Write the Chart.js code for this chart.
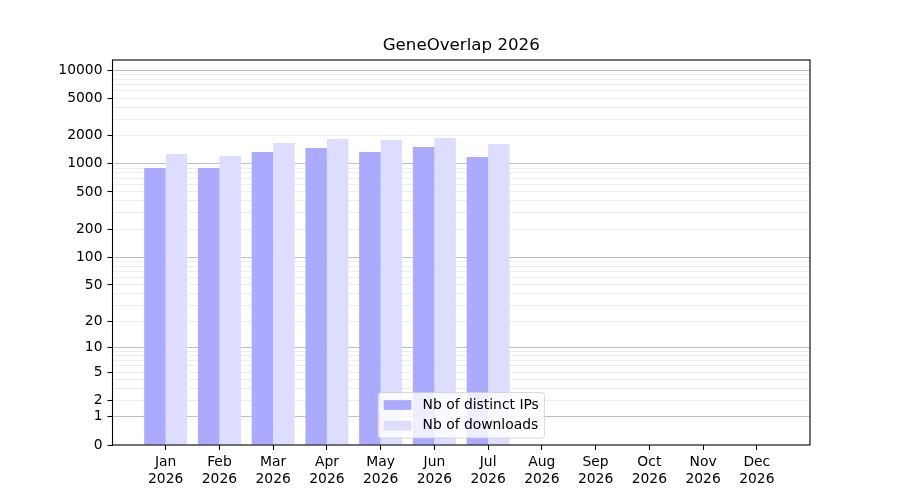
<!DOCTYPE html>
<html>
<head>
<meta charset="utf-8">
<script src="https://cdn.jsdelivr.net/npm/chart.js@4/dist/chart.umd.min.js"></script>
<style>
  html, body { margin: 0; padding: 0; background: #fff; }
  #wrap { width: 900px; height: 500px; }
</style>
</head>
<body>
<div id="wrap"><canvas id="c" width="900" height="500"></canvas></div>
<script>
// ---- data ----
const chartTitle = 'GeneOverlap 2026';
const months = ['Jan', 'Feb', 'Mar', 'Apr', 'May', 'Jun', 'Jul', 'Aug', 'Sep', 'Oct', 'Nov', 'Dec'];
const year = '2026';
const seriesNames = ['Nb of distinct IPs', 'Nb of downloads'];
const distinctIPs = [900, 900, 1335, 1470, 1335, 1510, 1180, 0, 0, 0, 0, 0];
const downloads = [1270, 1210, 1665, 1835, 1790, 1880, 1625, 0, 0, 0, 0, 0];
const yTickLabels = [0, 1, 2, 5, 10, 20, 50, 100, 200, 500, 1000, 2000, 5000, 10000];
const yMajorGrid = [1, 10, 100, 1000, 10000];
const yAxisMax = 12790;

// ---- log10(1+x) scale ----
class Log1pScale extends Chart.LinearScale {
  determineDataLimits() {
    this.min = 0;
    this.max = this.options.max;
  }
  buildTicks() {
    const vals = new Set(yTickLabels);
    for (let d = 1; d <= 1000; d *= 10) {
      for (let k = 2; k <= 9; k++) vals.add(k * d);
    }
    return Array.from(vals).filter(v => v <= this.max).sort((a, b) => a - b).map(v => ({ value: v }));
  }
  getPixelForValue(value) {
    if (value === null || value === undefined || isNaN(value)) return NaN;
    const t = Math.log10(1 + Math.max(0, value)) / Math.log10(1 + this.max);
    return this.getPixelForDecimal(t);
  }
  getValueForPixel(pixel) {
    const d = this.getDecimalForPixel(pixel);
    return Math.pow(10, d * Math.log10(1 + this.max)) - 1;
  }
}
Log1pScale.id = 'log1p';
Log1pScale.defaults = Chart.LinearScale.defaults;
Chart.register(Log1pScale);

const FONT = 'DejaVu Sans';
const TICK_PX = 13.89;

const framePlugin = {
  id: 'frameAndLegend',
  afterDraw(chart) {
    const ctx = chart.ctx;
    const a = chart.chartArea;
    ctx.save();
    ctx.strokeStyle = '#000';
    ctx.lineWidth = 1.1;
    ctx.strokeRect(a.left, a.top, a.right - a.left, a.bottom - a.top);

    // legend (lower center, matplotlib style)
    const fs = TICK_PX;
    ctx.font = fs + 'px "' + FONT + '"';
    const ds = chart.data.datasets;
    let tw = 0;
    ds.forEach(d => { tw = Math.max(tw, ctx.measureText(d.label).width); });
    const pad = 0.4 * fs, hl = 2.0 * fs, htp = 0.8 * fs, ls = 0.5 * fs, rowH = 13.7;
    const w = pad * 2 + hl + htp + tw;
    const h = pad * 2 + ds.length * rowH + (ds.length - 1) * ls;
    const cx = (a.left + a.right) / 2;
    const x0 = cx - w / 2;
    const y0 = a.bottom - 0.5 * fs - h;
    const r = 0.2 * fs;
    ctx.beginPath();
    ctx.moveTo(x0 + r, y0);
    ctx.lineTo(x0 + w - r, y0);
    ctx.quadraticCurveTo(x0 + w, y0, x0 + w, y0 + r);
    ctx.lineTo(x0 + w, y0 + h - r);
    ctx.quadraticCurveTo(x0 + w, y0 + h, x0 + w - r, y0 + h);
    ctx.lineTo(x0 + r, y0 + h);
    ctx.quadraticCurveTo(x0, y0 + h, x0, y0 + h - r);
    ctx.lineTo(x0, y0 + r);
    ctx.quadraticCurveTo(x0, y0, x0 + r, y0);
    ctx.closePath();
    ctx.fillStyle = 'rgba(255,255,255,0.8)';
    ctx.fill();
    ctx.strokeStyle = 'rgba(204,204,204,0.8)';
    ctx.lineWidth = 1;
    ctx.stroke();
    ds.forEach((d, i) => {
      const yc = y0 + pad + rowH / 2 + i * (rowH + ls);
      ctx.fillStyle = d.backgroundColor;
      ctx.fillRect(x0 + pad, yc - 0.35 * fs, hl, 0.7 * fs);
      ctx.fillStyle = '#000';
      ctx.textBaseline = 'middle';
      ctx.textAlign = 'left';
      ctx.fillText(d.label, x0 + pad + hl + htp, yc);
    });
    ctx.restore();
  }
};

const labelSet = new Set(yTickLabels);
const majorSet = new Set(yMajorGrid);

new Chart(document.getElementById('c'), {
  type: 'bar',
  data: {
    datasets: [
      {
        label: seriesNames[0],
        data: months.map((m, i) => ({ x: i, y: distinctIPs[i] })),
        backgroundColor: 'rgb(170,170,255)',
        borderWidth: 0,
        categoryPercentage: 0.8,
        barPercentage: 1.0
      },
      {
        label: seriesNames[1],
        data: months.map((m, i) => ({ x: i, y: downloads[i] })),
        backgroundColor: 'rgb(221,221,255)',
        borderWidth: 0,
        categoryPercentage: 0.8,
        barPercentage: 1.0
      }
    ]
  },
  options: {
    responsive: false,
    animation: false,
    devicePixelRatio: 1,
    layout: { padding: { left: 0, top: 0, right: 90, bottom: 0 } },
    plugins: {
      legend: { display: false },
      tooltip: { enabled: false },
      title: {
        display: true,
        text: chartTitle,
        fullSize: false,
        color: '#000',
        font: { family: FONT, size: 16.67, weight: 'normal', lineHeight: 1.2 },
        padding: { top: 36, bottom: 4 }
      }
    },
    scales: {
      x: {
        type: 'linear',
        min: -0.99,
        max: 11.99,
        offset: false,
        afterBuildTicks: (s) => { s.ticks = months.map((m, i) => ({ value: i })); },
        afterFit: (s) => { s.height = 55; },
        grid: {
          offset: false,
          drawOnChartArea: false,
          drawTicks: true,
          tickLength: 5,
          tickColor: '#000',
          tickWidth: 1.1
        },
        border: { display: false },
        ticks: {
          autoSkip: false,
          maxRotation: 0,
          minRotation: 0,
          padding: 4,
          color: '#000',
          font: { family: FONT, size: TICK_PX, lineHeight: 1.2 },
          callback: (v) => {
            const i = Math.round(v);
            return [months[i], year];
          }
        }
      },
      y: {
        type: 'log1p',
        min: 0,
        max: yAxisMax,
        offset: false,
        z: 1,
        afterFit: (s) => { s.width = 112.5; },
        grid: {
          drawTicks: true,
          tickLength: 5,
          lineWidth: 1,
          color: (c) => {
            const v = c.tick ? c.tick.value : null;
            if (v === 0) return 'rgba(0,0,0,0)';
            return majorSet.has(v) ? 'rgba(0,0,0,0.25)' : 'rgba(0,0,0,0.07)';
          },
          tickColor: (c) => (c.tick && labelSet.has(c.tick.value)) ? '#000' : 'rgba(0,0,0,0)',
          tickWidth: 1.1
        },
        border: { display: false },
        ticks: {
          autoSkip: false,
          padding: 5,
          color: '#000',
          font: { family: FONT, size: TICK_PX },
          callback: (v) => labelSet.has(v) ? String(v) : ''
        }
      }
    }
  },
  plugins: [framePlugin]
});
</script>
</body>
</html>
